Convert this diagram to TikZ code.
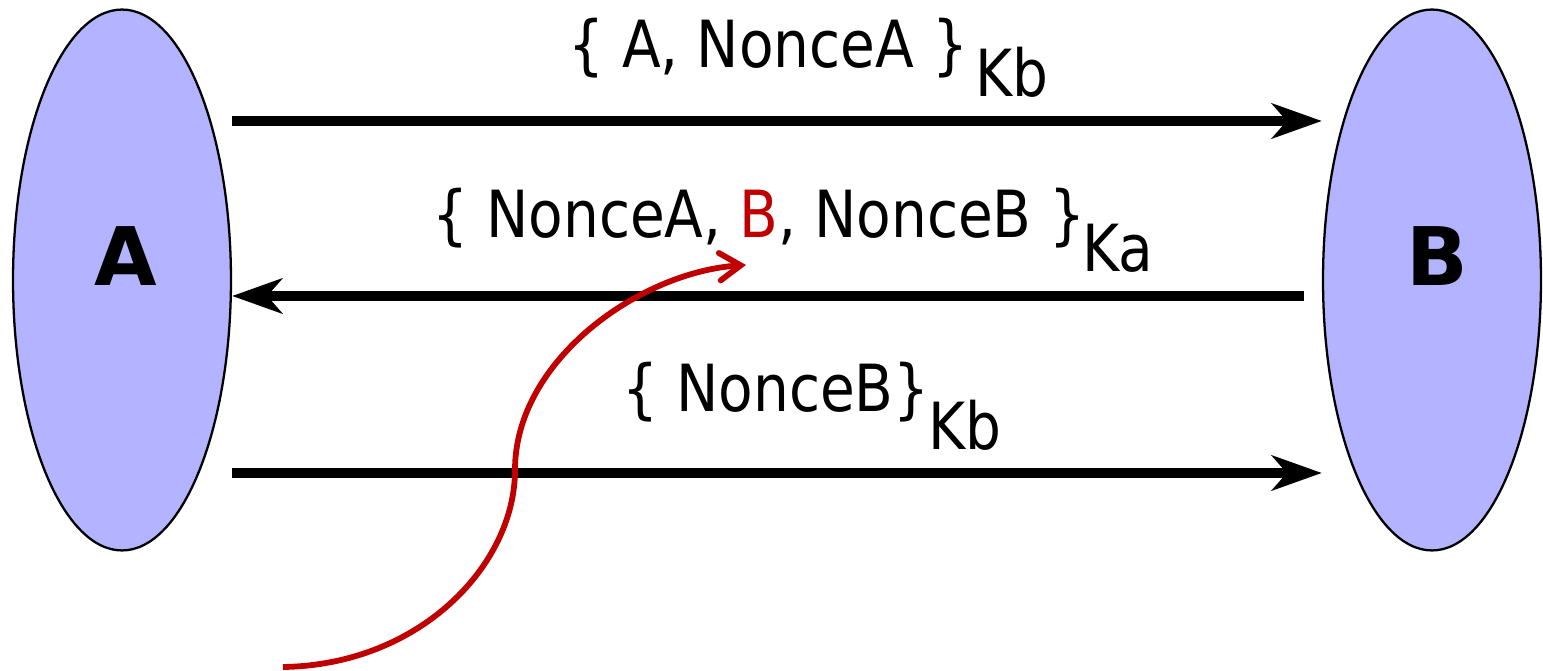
\documentclass[tikz,border=0pt]{standalone}
\usepackage{fontspec}
\setmainfont{DejaVu Sans}
\newfontfamily\msgfont[FakeStretch=0.87]{DejaVu Sans}
\usetikzlibrary{arrows.meta,shapes.geometric}
\definecolor{partyfill}{HTML}{B3B3FF}
\definecolor{attack}{HTML}{C00000}
\begin{document}
\begin{tikzpicture}[x=0.02cm,y=-0.02cm,
  party/.style={draw=black, line width=1.3pt, fill=partyfill, ellipse,
    minimum width=4.36cm, minimum height=10.82cm, inner sep=0pt},
  partyname/.style={font=\fontsize{46}{46}\selectfont\bfseries, anchor=base},
  msg/.style={line width=5.4pt, -{Stealth[length=1cm, width=0.7cm, inset=0.3cm]}},
  msgtext/.style={font=\msgfont\fontsize{37}{37}\selectfont, anchor=base west, inner sep=0pt},
  keytext/.style={font=\msgfont\fontsize{37}{37}\selectfont, anchor=base west, inner sep=0pt},
  redirect/.style={draw=attack, line width=3.3pt, -{Straight Barb[length=0.42cm, width=0.55cm, line cap=round]}}]
\useasboundingbox (0,0) rectangle (1543,671);

% the two principals
\node[party] (A) at (122,280) {};
\node[party] (B) at (1432,280) {};
\node[partyname] (Aname) at (126,286) {A};
\node[partyname] (Bname) at (1437,286) {B};

% message 1: A -> B
\draw[msg] (A.east |- 0,121) -- (B.west |- 0,121);
\node[msgtext] (m1) at (568,68) {\{ A, NonceA \}};
\node[keytext] (k1) at (975,97) {Kb};

% message 2: B -> A
\draw[msg] ([xshift=-0.36cm]B.west |- 0,296) -- (A.east |- 0,296);
\node[msgtext] (m2) at (432,238) {\{ NonceA, \textcolor{attack}{B}, NonceB \}};
\node[keytext] (k2) at (1082,272) {Ka};

% message 3: A -> B
\draw[msg] (A.east |- 0,473) -- (B.west |- 0,473);
\node[msgtext] (m3) at (622,412) {\{ NonceB\}};
\node[keytext] (k3) at (928,450) {Kb};

% the inserted identity
\coordinate (rstart) at (283,667);
\coordinate (rend) at (746,265);
\draw[redirect] (rstart) .. controls (420,665) and (515,565) .. (515,470)
  .. controls (515,360) and (640,272) .. (rend);
\end{tikzpicture}
\end{document}
